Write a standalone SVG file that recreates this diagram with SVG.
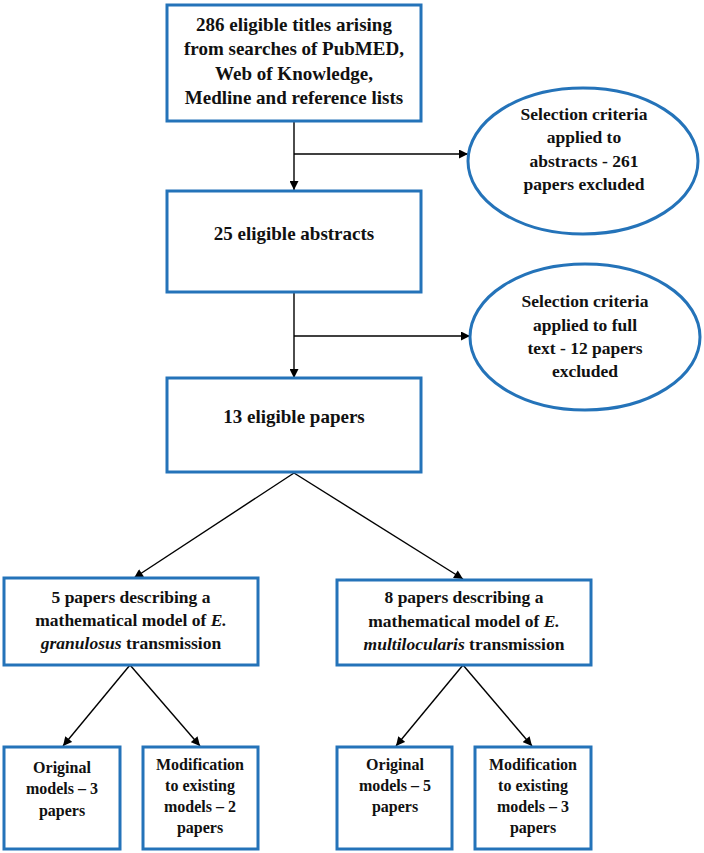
<svg xmlns="http://www.w3.org/2000/svg" width="704" height="853" viewBox="0 0 704 853">
<style>
.box{fill:#fff;stroke:#2473b9;stroke-width:3}
.con{stroke:#000;stroke-width:1.4;fill:none}
.txt text{font-weight:bold;fill:#111;text-anchor:middle}
.t1{font-size:19px}
.t2{font-size:17.5px}
.t3{font-size:16px}
.i{font-style:italic}
</style>
<defs>
<marker id="ah" viewBox="0 0 10 10" refX="10" refY="5" markerWidth="10" markerHeight="9" markerUnits="userSpaceOnUse" orient="auto">
<path d="M0,0 L10,5 L0,10 z" fill="#000"/>
</marker>
</defs>
<rect width="704" height="853" fill="#fff"/>
<g id="connectors">
<line class="con" x1="294" y1="121" x2="294" y2="190" marker-end="url(#ah)"/>
<line class="con" x1="294" y1="154" x2="468" y2="154" marker-end="url(#ah)"/>
<line class="con" x1="294" y1="292" x2="294" y2="378" marker-end="url(#ah)"/>
<line class="con" x1="294" y1="336" x2="470" y2="336" marker-end="url(#ah)"/>
<line class="con" x1="294" y1="473" x2="134" y2="578" marker-end="url(#ah)"/>
<line class="con" x1="294" y1="473" x2="463" y2="579" marker-end="url(#ah)"/>
<line class="con" x1="130" y1="665" x2="63" y2="746" marker-end="url(#ah)"/>
<line class="con" x1="130" y1="665" x2="200" y2="746" marker-end="url(#ah)"/>
<line class="con" x1="463" y1="665" x2="396" y2="746" marker-end="url(#ah)"/>
<line class="con" x1="463" y1="665" x2="532" y2="746" marker-end="url(#ah)"/>
</g>
<g class="txt" font-family="Liberation Serif, Tinos, DejaVu Serif, serif">
<g id="n1">
<rect class="box" x="167" y="5" width="254" height="116"/>
<text class="t1" x="294" y="31">286 eligible titles arising</text>
<text class="t1" x="294" y="55">from searches of PubMED,</text>
<text class="t1" x="294" y="80">Web of Knowledge,</text>
<text class="t1" x="294" y="104">Medline and reference lists</text>
</g>
<g id="e1">
<ellipse class="box" cx="583" cy="161" rx="115" ry="73"/>
<text class="t2" x="584" y="120">Selection criteria</text>
<text class="t2" x="584" y="143">applied to</text>
<text class="t2" x="584" y="167">abstracts - 261</text>
<text class="t2" x="584" y="190">papers excluded</text>
</g>
<g id="n2">
<rect class="box" x="167" y="191" width="254" height="101"/>
<text class="t1" x="294" y="240">25 eligible abstracts</text>
</g>
<g id="e2">
<ellipse class="box" cx="585" cy="337" rx="115" ry="73"/>
<text class="t2" x="585" y="307">Selection criteria</text>
<text class="t2" x="585" y="331">applied to full</text>
<text class="t2" x="585" y="354">text - 12 papers</text>
<text class="t2" x="585" y="377">excluded</text>
</g>
<g id="n3">
<rect class="box" x="167" y="378" width="254" height="94"/>
<text class="t1" x="294" y="423">13 eligible papers</text>
</g>
<g id="n4">
<rect class="box" x="4" y="578" width="254" height="87"/>
<text class="t2" x="131" y="603">5 papers describing a</text>
<text class="t2" x="131" y="626">mathematical model of <tspan class="i">E.</tspan></text>
<text class="t2" x="131" y="649"><tspan class="i">granulosus</tspan> transmission</text>
</g>
<g id="n5">
<rect class="box" x="337" y="580" width="254" height="85"/>
<text class="t2" x="464" y="603">8 papers describing a</text>
<text class="t2" x="464" y="627">mathematical model of <tspan class="i">E.</tspan></text>
<text class="t2" x="464" y="650"><tspan class="i">multilocularis</tspan> transmission</text>
</g>
<g id="n6">
<rect class="box" x="4" y="747" width="116" height="102"/>
<text class="t3" x="62" y="773">Original</text>
<text class="t3" x="62" y="794">models – 3</text>
<text class="t3" x="62" y="816">papers</text>
</g>
<g id="n7">
<rect class="box" x="143" y="747" width="115" height="102"/>
<text class="t3" x="200" y="770">Modification</text>
<text class="t3" x="200" y="791">to existing</text>
<text class="t3" x="200" y="812">models – 2</text>
<text class="t3" x="200" y="833">papers</text>
</g>
<g id="n8">
<rect class="box" x="337" y="747" width="115" height="102"/>
<text class="t3" x="395" y="770">Original</text>
<text class="t3" x="395" y="791">models – 5</text>
<text class="t3" x="395" y="812">papers</text>
</g>
<g id="n9">
<rect class="box" x="475" y="747" width="116" height="102"/>
<text class="t3" x="533" y="770">Modification</text>
<text class="t3" x="533" y="791">to existing</text>
<text class="t3" x="533" y="812">models – 3</text>
<text class="t3" x="533" y="833">papers</text>
</g>
</g>
</svg>
